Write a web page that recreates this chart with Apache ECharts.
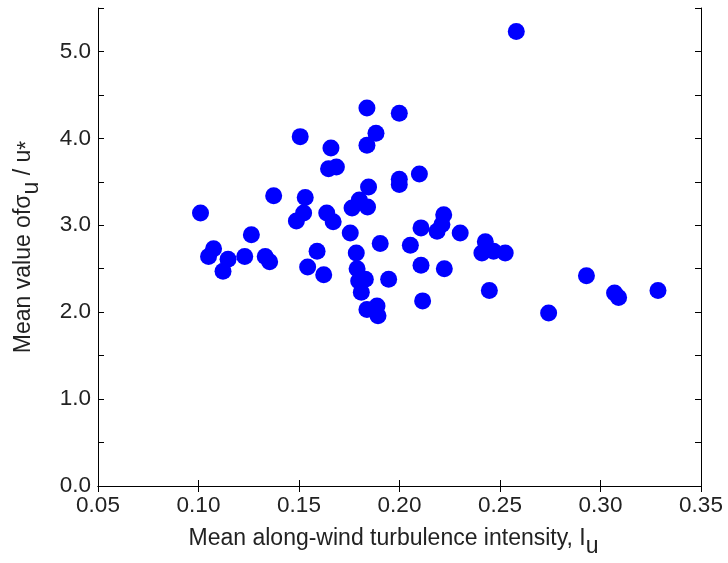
<!DOCTYPE html>
<html>
<head>
<meta charset="utf-8">
<script src="https://cdn.jsdelivr.net/npm/echarts@6/dist/echarts.min.js"></script>
<style>
  html, body { margin: 0; padding: 0; background: #fff; }
  #main { width: 728px; height: 563px; }
</style>
</head>
<body>
<div id="main"></div>
<script>
// turbulence intensity (x) vs mean sigma_u / u* (y)
const intensity = [
  0.101, 0.1075, 0.105, 0.1147, 0.1122, 0.1263, 0.123, 0.1332, 0.1354, 0.1374,
  0.1531, 0.1523, 0.1487, 0.159, 0.1543, 0.1623, 0.1506, 0.1659, 0.1647, 0.1686,
  0.1638, 0.167, 0.1838, 0.1999, 0.1883, 0.1838, 0.1846, 0.1999, 0.1999, 0.2099,
  0.1764, 0.18, 0.1841, 0.1755, 0.1785, 0.1789, 0.183, 0.1797, 0.181, 0.1838,
  0.1888, 0.1893, 0.1904, 0.1946, 0.2054, 0.222, 0.2211, 0.2187, 0.2107, 0.2302,
  0.2427, 0.241, 0.2468, 0.2526, 0.2107, 0.2223, 0.2115, 0.2447, 0.2581, 0.293,
  0.2742, 0.307, 0.309, 0.3286
];
const sigmaRatio = [
  3.14, 2.73, 2.64, 2.61, 2.47, 2.89, 2.64, 2.64, 2.58, 3.34,
  3.32, 3.14, 3.05, 2.70, 2.52, 2.43, 4.02, 3.89, 3.65, 3.67,
  3.14, 3.04, 4.35, 4.29, 4.06, 3.92, 3.44, 3.53, 3.47, 3.59,
  3.20, 3.29, 3.21, 2.91, 2.68, 2.50, 2.38, 2.36, 2.23, 2.03,
  2.07, 1.96, 2.79, 2.38, 2.77, 3.12, 3.01, 2.93, 2.97, 2.91,
  2.81, 2.68, 2.70, 2.68, 2.54, 2.50, 2.13, 2.25, 5.23, 2.42,
  1.99, 2.22, 2.17, 2.25
];

var chartDom = document.getElementById('main');
var myChart = echarts.init(chartDom);

const font = 'Liberation Sans, Arial, sans-serif';
const axisLine = { show: true, lineStyle: { color: '#000', width: 1 } };
const tick = { show: true, inside: true, length: 6, lineStyle: { color: '#000' } };
const titleRich = {
  sub: { fontFamily: font, fontSize: 23, color: '#222', padding: [15, 0, 0, 0] },
  star: { fontFamily: font, fontSize: 23, color: '#222', padding: [8, 0, 0, 0] }
};

var option = {
  animation: false,
  grid: { left: 98, right: 27, top: 8, bottom: 75 },
  xAxis: [{
    type: 'value',
    min: 0.05,
    max: 0.35,
    interval: 0.05,
    name: 'Mean along-wind turbulence intensity, I{sub|u}',
    nameLocation: 'middle',
    nameGap: 34,
    nameTextStyle: {
      fontFamily: font, fontSize: 23, color: '#222', padding: [0, 12, 0, 0],
      rich: titleRich
    },
    axisLine: axisLine,
    axisTick: tick,
    splitLine: { show: false },
    axisLabel: {
      margin: 8, fontFamily: font, fontSize: 22.5, color: '#222',
      formatter: v => v.toFixed(2)
    }
  }, {
    type: 'value',
    position: 'top',
    min: 0.05,
    max: 0.35,
    interval: 0.05,
    axisLine: axisLine,
    axisTick: tick,
    splitLine: { show: false },
    axisLabel: { show: false }
  }],
  yAxis: [{
    type: 'value',
    min: 0,
    max: 5.5,
    interval: 0.5,
    name: 'Mean value ofσ{sub|u} / u{star|*}',
    nameLocation: 'middle',
    nameGap: 55,
    nameTextStyle: {
      fontFamily: font, fontSize: 23, color: '#222',
      rich: titleRich
    },
    axisLine: axisLine,
    axisTick: tick,
    splitLine: { show: false },
    axisLabel: {
      margin: 7, fontFamily: font, fontSize: 22.5, color: '#222',
      formatter: v => (Math.abs(v % 1) < 1e-9 ? v.toFixed(1) : '')
    }
  }, {
    type: 'value',
    position: 'right',
    min: 0,
    max: 5.5,
    interval: 0.5,
    axisLine: axisLine,
    axisTick: tick,
    splitLine: { show: false },
    axisLabel: { show: false }
  }],
  series: [{
    type: 'scatter',
    symbol: 'circle',
    symbolSize: 17,
    itemStyle: { color: '#0000ff', opacity: 1 },
    data: intensity.map((x, i) => [x, sigmaRatio[i]])
  }]
};

option && myChart.setOption(option);
</script>
</body>
</html>
